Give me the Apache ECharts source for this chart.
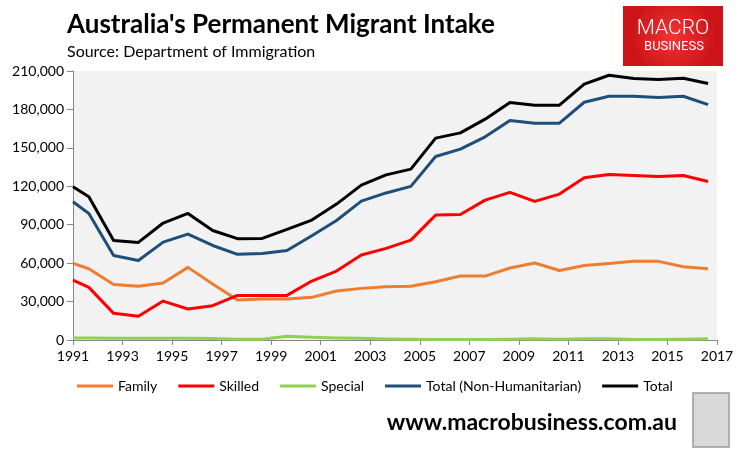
<!DOCTYPE html>
<html>
<head>
<meta charset="utf-8">
<script src="https://cdn.jsdelivr.net/npm/echarts@6/dist/echarts.min.js"></script>
<style>
  html, body { margin: 0; padding: 0; background: #fff; }
  #chart { width: 756px; height: 451px; }
</style>
</head>
<body>
<div id="chart"></div>
<script>
// financial-year points, first one sits on the axis start
var years = [1991, 1991.64, 1992.64, 1993.64, 1994.64, 1995.64, 1996.64, 1997.64, 1998.64,
    1999.64, 2000.64, 2001.64, 2002.64, 2003.64, 2004.64, 2005.64, 2006.64, 2007.64,
    2008.64, 2009.64, 2010.64, 2011.64, 2012.64, 2013.64, 2014.64, 2015.64, 2016.64];

var family = [59800, 55600, 43400, 41900, 44500, 56700, 43700, 31200, 32000,
    32000, 33300, 38200, 40300, 41600, 41900, 45500, 49900, 49900,
    56200, 60100, 54300, 58200, 59800, 61400, 61400, 57200, 55600];

var skilled = [46800, 41100, 20800, 18500, 30400, 24200, 26800, 34800, 34800,
    34800, 46000, 53800, 66300, 71500, 78000, 97500, 98000, 109200,
    115200, 108200, 113900, 126600, 129200, 128400, 127700, 128400, 123800];

var special = [1500, 1500, 1400, 1400, 1400, 1300, 1200, 500, 500,
    2900, 2100, 1600, 1300, 800, 500, 300, 300, 300,
    500, 1000, 500, 1000, 1000, 400, 400, 500, 1000];

var totalNonHum = [107900, 98800, 66000, 62100, 76400, 82700, 73800, 66900, 67600,
    69900, 81400, 93300, 108400, 114800, 119900, 143300, 149000, 158600,
    171300, 169300, 169300, 185600, 190300, 190300, 189300, 190300, 183800];

var total = [119600, 111800, 77700, 76200, 91300, 98800, 85500, 79100, 79300,
    86300, 93600, 106100, 120900, 128900, 133400, 157600, 161700, 172400,
    185400, 183300, 183300, 199700, 206700, 204100, 203300, 204400, 200200];

var seriesNames = ['Family', 'Skilled', 'Special', 'Total (Non-Humanitarian)', 'Total'];
var seriesColors = ['#ED7D31', '#FF0000', '#92D050', '#1F4E79', '#000000'];

function pairs(vals) {
    var out = [];
    for (var i = 0; i < vals.length; i++) {
        out.push([years[i], vals[i]]);
    }
    return out;
}

var FONT = 'Lato';

var chart = echarts.init(document.getElementById('chart'));
var allVals = [family, skilled, special, totalNonHum, total];
var series = [];
for (var s = 0; s < allVals.length; s++) {
    series.push({
        name: seriesNames[s],
        type: 'line',
        data: pairs(allVals[s]),
        showSymbol: false,
        symbol: 'none',
        lineStyle: { width: 3, color: seriesColors[s], join: 'round' },
        itemStyle: { color: seriesColors[s] },
        z: 2 + s
    });
}

var option = {
    animation: false,
    backgroundColor: '#fff',
    grid: {
        left: 73,
        right: 39,
        top: 71,
        bottom: 111,
        show: true,
        backgroundColor: '#F2F2F2',
        borderWidth: 0
    },
    legend: {
        data: seriesNames,
        left: 72,
        top: 374,
        itemWidth: 36,
        itemHeight: 3,
        itemGap: 21,
        icon: 'rect',
        textStyle: { fontFamily: FONT, fontSize: 14, color: '#000' }
    },
    xAxis: {
        type: 'value',
        min: 1991,
        max: 2017,
        interval: 2,
        axisLine: { lineStyle: { color: '#868686', width: 1 } },
        axisTick: { show: true, length: 5, lineStyle: { color: '#868686' } },
        splitLine: { show: false },
        axisLabel: {
            margin: 9,
            fontFamily: FONT,
            fontSize: 14,
            color: '#000',
            formatter: function (v) { return String(v); }
        }
    },
    yAxis: {
        type: 'value',
        min: 0,
        max: 210000,
        interval: 30000,
        axisLine: { show: true, lineStyle: { color: '#868686', width: 1 } },
        axisTick: { show: true, length: 6, lineStyle: { color: '#868686' } },
        splitLine: { show: false },
        axisLabel: {
            margin: 9,
            fontFamily: FONT,
            fontSize: 14,
            color: '#000'
        }
    },
    graphic: [
        {
            type: 'text', left: 67, top: 12,
            style: { text: "Australia's Permanent Migrant Intake", fontFamily: FONT, fontWeight: 'bold', fontSize: 26, fill: '#000' }
        },
        {
            type: 'text', left: 67, top: 44,
            style: { text: 'Source: Department of Immigration', fontFamily: FONT, fontSize: 16, fill: '#000' }
        },
        {
            type: 'rect', shape: { x: 623, y: 6, width: 100, height: 60 },
            style: {
                fill: new echarts.graphic.RadialGradient(0.5, 0.5, 0.7, [
                    { offset: 0, color: '#F23434' },
                    { offset: 1, color: '#CC1418' }
                ])
            }
        },
        {
            type: 'text', x: 673, y: 29,
            style: { text: 'MACRO', fontFamily: 'Roboto', fontWeight: 300, fontSize: 21, fill: '#fff', align: 'center', verticalAlign: 'middle' }
        },
        {
            type: 'text', x: 674, y: 47,
            style: { text: 'BUSINESS', fontFamily: 'Roboto', fontSize: 13, fill: '#fff', align: 'center', verticalAlign: 'middle' }
        },
        {
            type: 'text', x: 677, y: 423,
            style: { text: 'www.macrobusiness.com.au', fontFamily: FONT, fontWeight: 'bold', fontSize: 23, fill: '#000', align: 'right', verticalAlign: 'middle' }
        },
        {
            type: 'rect', shape: { x: 693, y: 393, width: 36, height: 54 },
            style: { fill: '#D9D9D9', stroke: '#9A9A9A', lineWidth: 1.5 }
        }
    ],
    series: series
};
chart.setOption(option);
</script>
</body>
</html>
